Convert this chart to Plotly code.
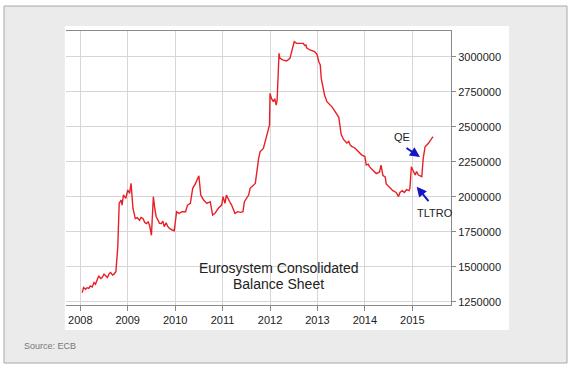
import plotly.graph_objects as go

# decimal year positions of observations
years = [
    2008.04, 2008.07, 2008.11, 2008.14, 2008.18, 2008.21, 2008.25, 2008.29, 2008.32, 2008.36,
    2008.39, 2008.43, 2008.46, 2008.50, 2008.54, 2008.57, 2008.61, 2008.64, 2008.68, 2008.71,
    2008.75, 2008.79, 2008.82, 2008.86, 2008.88, 2008.91, 2008.96, 2009.00, 2009.04, 2009.07,
    2009.11, 2009.16, 2009.20, 2009.25, 2009.28, 2009.32, 2009.36, 2009.39, 2009.43, 2009.46,
    2009.50, 2009.54, 2009.57, 2009.60, 2009.64, 2009.67, 2009.71, 2009.74, 2009.77, 2009.81,
    2009.84, 2009.88, 2009.94, 2009.98, 2010.03, 2010.08, 2010.15, 2010.22, 2010.26, 2010.32,
    2010.37, 2010.43, 2010.50, 2010.54, 2010.60, 2010.67, 2010.74, 2010.79, 2010.84, 2010.91,
    2010.98, 2011.01, 2011.05, 2011.08, 2011.15, 2011.19, 2011.26, 2011.32, 2011.38, 2011.43,
    2011.46, 2011.51, 2011.55, 2011.58, 2011.64, 2011.69, 2011.76, 2011.79, 2011.86, 2011.92,
    2011.97, 2011.99, 2012.00, 2012.03, 2012.07, 2012.10, 2012.13, 2012.15, 2012.19, 2012.21,
    2012.28, 2012.35, 2012.42, 2012.48, 2012.51, 2012.56, 2012.63, 2012.70, 2012.73, 2012.76,
    2012.77, 2012.84, 2012.94, 2012.99, 2013.03, 2013.06, 2013.08, 2013.12, 2013.15, 2013.20,
    2013.24, 2013.31, 2013.38, 2013.45, 2013.50, 2013.55, 2013.62, 2013.66, 2013.69, 2013.72,
    2013.79, 2013.86, 2013.93, 2014.00, 2014.03, 2014.07, 2014.10, 2014.17, 2014.24, 2014.31,
    2014.34, 2014.38, 2014.43, 2014.45, 2014.52, 2014.59, 2014.66, 2014.71, 2014.74, 2014.79,
    2014.83, 2014.88, 2014.93, 2014.95, 2014.98, 2015.02, 2015.06, 2015.09, 2015.13, 2015.20,
    2015.23, 2015.27, 2015.34, 2015.41, 2015.44,
]

# Eurosystem consolidated balance sheet (EUR million)
balance = [
    1315000, 1351000, 1339000, 1350000, 1345000, 1363000, 1355000, 1387000, 1375000, 1410000,
    1435000, 1415000, 1423000, 1447000, 1430000, 1423000, 1450000, 1459000, 1440000, 1447000,
    1464000, 1639000, 1952000, 1976000, 1940000, 2012000, 1988000, 2048000, 2024000, 2096000,
    1916000, 1844000, 1850000, 1832000, 1852000, 1844000, 1815000, 1808000, 1820000, 1796000,
    1724000, 2000000, 1916000, 1857000, 1832000, 1810000, 1808000, 1826000, 1786000, 1814000,
    1790000, 1774000, 1762000, 1757000, 1893000, 1881000, 1893000, 1893000, 1940000, 1952000,
    2060000, 2095000, 2150000, 2012000, 1976000, 1952000, 1964000, 1869000, 1881000, 1917000,
    1940000, 2000000, 1952000, 2012000, 1964000, 1940000, 1881000, 1893000, 1888000, 1893000,
    1964000, 1988000, 2012000, 2060000, 2083000, 2095000, 2274000, 2321000, 2345000, 2417000,
    2488000, 2512000, 2738000, 2702000, 2679000, 2700000, 2655000, 2690000, 3024000, 2988000,
    2976000, 2969000, 2988000, 3060000, 3107000, 3095000, 3095000, 3095000, 3080000, 3083000,
    3064000, 3048000, 3036000, 3017000, 2964000, 2940000, 2845000, 2774000, 2726000, 2679000,
    2665000, 2640000, 2604000, 2567000, 2445000, 2409000, 2384000, 2395000, 2370000, 2360000,
    2348000, 2323000, 2299000, 2287000, 2226000, 2232000, 2213000, 2189000, 2165000, 2177000,
    2226000, 2153000, 2140000, 2091000, 2067000, 2043000, 2030000, 2001000, 2030000, 2043000,
    2030000, 2050000, 2043000, 2060000, 2214000, 2179000, 2155000, 2179000, 2155000, 2143000,
    2274000, 2357000, 2381000, 2417000, 2428000,
]

x_ticks = [2008, 2009, 2010, 2011, 2012, 2013, 2014, 2015]
x_tick_labels = ["2008", "2009", "2010", "2011", "2012", "2013", "2014", "2015"]
y_ticks = [1250000, 1500000, 1750000, 2000000, 2250000, 2500000, 2750000, 3000000]
y_tick_labels = [str(v) for v in y_ticks]

FONT = "Arial, Liberation Sans, sans-serif"
GRID = "#d6d6d6"
AXIS = "#8a8a8a"

fig = go.Figure()
fig.add_trace(go.Scatter(
    x=years, y=balance, mode="lines",
    line=dict(color="rgb(232,32,38)", width=1.4),
    hoverinfo="skip", showlegend=False,
))

fig.update_layout(
    width=571, height=370,
    margin=dict(l=66, r=120, t=31, b=65),
    paper_bgcolor="white",
    plot_bgcolor="white",
    font=dict(family=FONT, size=11, color="#222222"),
    showlegend=False,
    xaxis=dict(
        range=[2007.6985, 2015.816],
        tickvals=x_ticks, ticktext=x_tick_labels,
        showgrid=True, gridcolor=GRID, gridwidth=1,
        showline=True, linecolor=AXIS, linewidth=1, mirror=True,
        ticks="outside", ticklen=5, tickcolor=AXIS,
        zeroline=False, tickfont=dict(size=11, color="#222222"),
    ),
    yaxis=dict(
        range=[1226400, 3183600],
        side="right",
        tickvals=y_ticks, ticktext=y_tick_labels,
        showgrid=True, gridcolor=GRID, gridwidth=1,
        showline=True, linecolor=AXIS, linewidth=1,
        ticks="outside", ticklen=4, tickcolor=AXIS,
        zeroline=False, tickfont=dict(size=11, color="#222222"),
    ),
)

# outer gray frame and white chart panel
fig.add_shape(type="rect", xref="paper", yref="paper",
              x0=-0.161, x1=1.3013, y0=-0.2117, y1=1.0912,
              fillcolor="#ebebeb", line=dict(color="#a8a8a8", width=1), layer="below")
fig.add_shape(type="rect", xref="paper", yref="paper",
              x0=-0.003, x1=1.1506, y0=-0.0912, y1=1.0182,
              fillcolor="white", line=dict(width=0), layer="below")
# white label box covering the grid
fig.add_shape(type="rect", xref="paper", yref="paper",
              x0=0.2571, x1=0.8338, y0=0.0182, y1=0.1825,
              fillcolor="white", line=dict(width=0), layer="between")

fig.add_annotation(xref="paper", yref="paper", x=0.552, y=0.1339,
                   text="Eurosystem Consolidated", showarrow=False,
                   font=dict(size=14, color="#222222", family=FONT),
                   xanchor="center", yanchor="middle")
fig.add_annotation(xref="paper", yref="paper", x=0.552, y=0.0766,
                   text="Balance Sheet", showarrow=False,
                   font=dict(size=14, color="#222222", family=FONT),
                   xanchor="center", yanchor="middle")

# QE arrow + label
fig.add_annotation(x=2015.162, y=2283600, xref="x", yref="y",
                   text="", showarrow=True, ax=-15, ay=-10,
                   arrowhead=2, arrowsize=1, arrowwidth=2, arrowcolor="#1515c8")
fig.add_annotation(x=2014.776, y=2424300, xref="x", yref="y",
                   text="QE", showarrow=False,
                   font=dict(size=11, color="#222222", family=FONT))
# TLTRO arrow + label
fig.add_annotation(x=2015.093, y=2071400, xref="x", yref="y",
                   text="", showarrow=True, ax=13, ay=16,
                   arrowhead=2, arrowsize=1, arrowwidth=2, arrowcolor="#1515c8")
fig.add_annotation(x=2015.476, y=1885700, xref="x", yref="y",
                   text="TLTRO", showarrow=False,
                   font=dict(size=11, color="#222222", family=FONT))

fig.add_annotation(xref="paper", yref="paper", x=-0.1143, y=-0.1496,
                   text="Source: ECB", showarrow=False,
                   font=dict(size=9, color="#777777", family=FONT),
                   xanchor="left", yanchor="middle")

fig.write_html("out.html",
               config={"displayModeBar": False, "staticPlot": True},
               post_script="document.body.style.margin='0';document.body.style.overflow='hidden';")
